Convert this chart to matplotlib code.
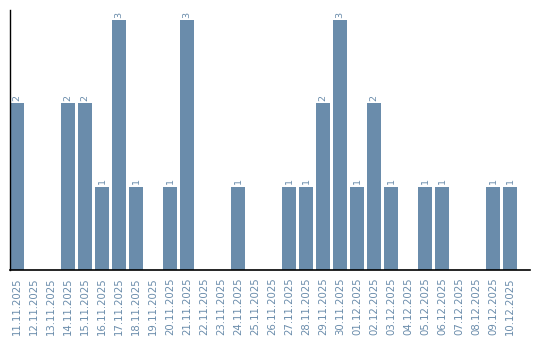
import matplotlib
matplotlib.use("Agg")
import matplotlib.pyplot as plt

dates = ["11.11.2025", "12.11.2025", "13.11.2025", "14.11.2025", "15.11.2025",
         "16.11.2025", "17.11.2025", "18.11.2025", "19.11.2025", "20.11.2025",
         "21.11.2025", "22.11.2025", "23.11.2025", "24.11.2025", "25.11.2025",
         "26.11.2025", "27.11.2025", "28.11.2025", "29.11.2025", "30.11.2025",
         "01.12.2025", "02.12.2025", "03.12.2025", "04.12.2025", "05.12.2025",
         "06.12.2025", "07.12.2025", "08.12.2025", "09.12.2025", "10.12.2025"]
counts = [2, 0, 0, 2, 2, 1, 3, 1, 0, 1,
          3, 0, 0, 1, 0, 0, 1, 1, 2, 3,
          1, 2, 1, 0, 1, 1, 0, 0, 1, 1]

color = "#6a8cab"

fig = plt.figure(figsize=(5.4, 3.4), dpi=100)
ax = fig.add_axes([10 / 540, 70 / 340, 520 / 540, 260 / 340])

x = list(range(len(dates)))
bars = ax.bar(x, counts, width=14 / 17, color=color)

# value labels above non-empty bars
for xi, c in zip(x, counts):
    if c > 0:
        ax.text(xi, c + 0.03, str(c), rotation=90, ha="center", va="bottom",
                fontsize=6.8, color=color)

ax.set_xticks(x)
ax.set_xticklabels(dates, rotation=90, fontsize=7.3, color=color)
ax.tick_params(axis="x", length=0, pad=5)
ax.set_yticks([])
ax.set_xlim(-0.41, 30.18)
ax.set_ylim(0, 3.12)

for s in ["top", "right"]:
    ax.spines[s].set_visible(False)
ax.spines["left"].set_linewidth(1)
ax.spines["bottom"].set_linewidth(1.2)

fig.savefig("out.png", dpi=100)
